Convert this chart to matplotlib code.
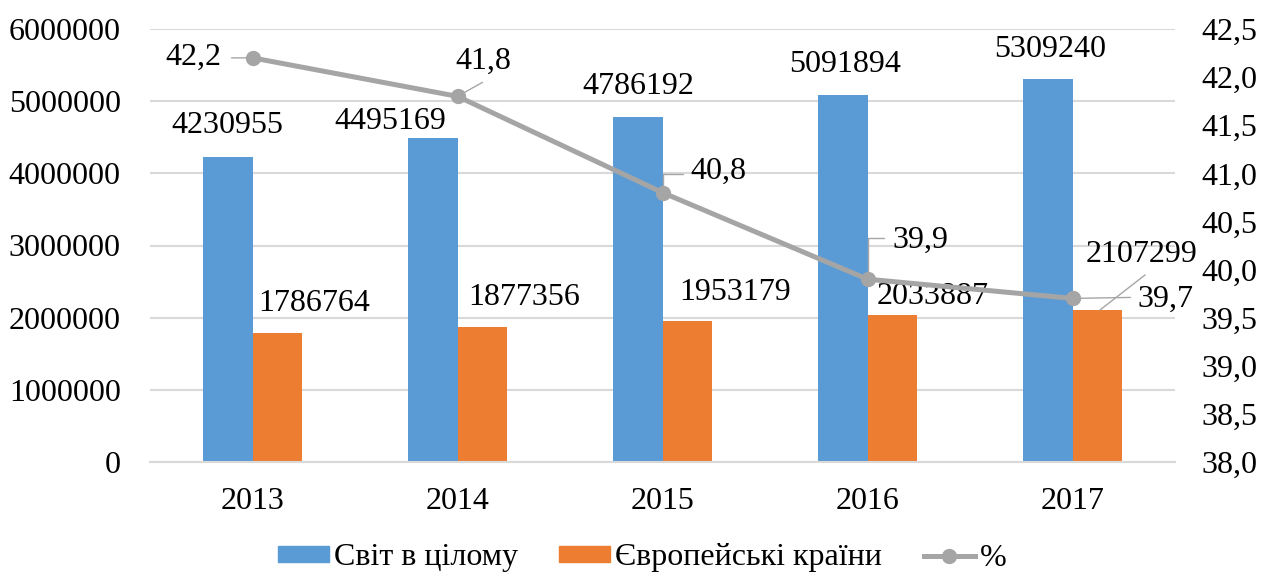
import matplotlib
matplotlib.use("Agg")
import matplotlib.pyplot as plt
import numpy as np
from matplotlib.patches import Patch
from matplotlib.lines import Line2D

years = ["2013", "2014", "2015", "2016", "2017"]
world = [4230955, 4495169, 4786192, 5091894, 5309240]
europe = [1786764, 1877356, 1953179, 2033887, 2107299]
percent = [42.2, 41.8, 40.8, 39.9, 39.7]
percent_labels = ["42,2", "41,8", "40,8", "39,9", "39,7"]
left_ticks = [0, 1000000, 2000000, 3000000, 4000000, 5000000, 6000000]
right_ticks = [38.0, 38.5, 39.0, 39.5, 40.0, 40.5, 41.0, 41.5, 42.0, 42.5]
legend_labels = ["Світ в цілому", "Європейські країни", "%"]

# layout (pixel offsets for data labels)
world_off = [(-1, 31), (-43, 16), (0, 30), (2, 30), (2, 29)]
europe_off = [(37, 30), (42, 29), (48, 29), (41, 19), (44, 55)]
pct_off = [(-59, 1), (26, 35), (56, 21), (53, 39), (93, -1)]

BLUE = "#5B9BD5"
ORANGE = "#ED7D31"
GRAY = "#A5A5A5"
GRID = "#D9D9D9"
FS = 23

plt.rcParams["font.family"] = ["Liberation Serif", "DejaVu Serif"]

fig = plt.figure(figsize=(12.65, 5.76), dpi=100)
ax = fig.add_axes([150 / 1265, 1 - 462 / 576, 1025 / 1265, 433 / 576])
ax2 = ax.twinx()

x = np.arange(len(years))
w = 0.24
ax.bar(x - w / 2, world, w, color=BLUE, zorder=2)
ax.bar(x + w / 2, europe, w, color=ORANGE, zorder=2)

ax.set_xlim(-0.5, len(years) - 0.5)
ax.set_ylim(0, 6000000)
ax.set_yticks(left_ticks)
ax.set_yticklabels([str(v) for v in left_ticks])
ax.set_xticks(x)
ax.set_xticklabels(years)
ax.grid(axis="y", color=GRID, lw=1.5, zorder=0)
ax.set_axisbelow(True)
for s in ["top", "left", "right"]:
    ax.spines[s].set_visible(False)
ax.spines["bottom"].set_color(GRID)
ax.spines["bottom"].set_linewidth(1.5)
ax.tick_params(axis="y", length=0, pad=21, labelsize=FS)
ax.tick_params(axis="x", length=0, pad=18, labelsize=FS)

ax2.set_ylim(38.0, 42.5)
ax2.set_yticks(right_ticks)
ax2.set_yticklabels([f"{v:.1f}".replace(".", ",") for v in right_ticks])
for s in ax2.spines.values():
    s.set_visible(False)
ax2.tick_params(axis="y", length=0, pad=19, labelsize=FS)

ax2.plot(x, percent, color=GRAY, lw=3.6, marker="o", ms=10, zorder=3)

for i in range(len(years)):
    ax.annotate(str(world[i]), xy=(x[i] - w / 2, world[i]), xytext=world_off[i],
                textcoords="offset pixels", ha="center", va="center", fontsize=FS)
    ax.annotate(str(europe[i]), xy=(x[i] + w / 2, europe[i]), xytext=europe_off[i],
                textcoords="offset pixels", ha="center", va="center", fontsize=FS)
    ax2.annotate(percent_labels[i], xy=(x[i], percent[i]), xytext=pct_off[i],
                 textcoords="offset pixels", ha="center", va="center", fontsize=FS, zorder=5)

lead = dict(arrowstyle="-", color="#A6A6A6", lw=1, shrinkA=0, shrinkB=0)
ax2.annotate("", xy=(x[0], percent[0]), xytext=(-21, 0), textcoords="offset pixels", arrowprops=lead)
ax2.annotate("", xy=(x[1], percent[1]), xytext=(25, 14), textcoords="offset pixels", arrowprops=lead)
ax2.annotate("", xy=(x[2], percent[2]), xytext=(20, 19), textcoords="offset pixels",
             arrowprops=dict(lead, connectionstyle="angle,angleA=0,angleB=90,rad=0"))
ax2.annotate("", xy=(x[3], percent[3]), xytext=(16, 41), textcoords="offset pixels",
             arrowprops=dict(lead, connectionstyle="angle,angleA=0,angleB=90,rad=0"))
ax2.annotate("", xy=(x[4], percent[4]), xytext=(58, 1), textcoords="offset pixels", arrowprops=lead)
ax.annotate("", xy=(x[4] + w / 2 + 3 / 205, europe[4]), xytext=(45, 35), textcoords="offset pixels", arrowprops=lead)

handles = [Patch(color=BLUE), Patch(color=ORANGE),
           Line2D([], [], color=GRAY, lw=3.6, marker="o", ms=10)]
fig.legend(handles, legend_labels, loc="center", bbox_to_anchor=(0.5075, 1 - 558 / 576),
           ncol=3, frameon=False, fontsize=FS, handlelength=1.6, handleheight=0.4,
           handletextpad=0.15, columnspacing=1.3)

fig.savefig("out.png", dpi=100)
